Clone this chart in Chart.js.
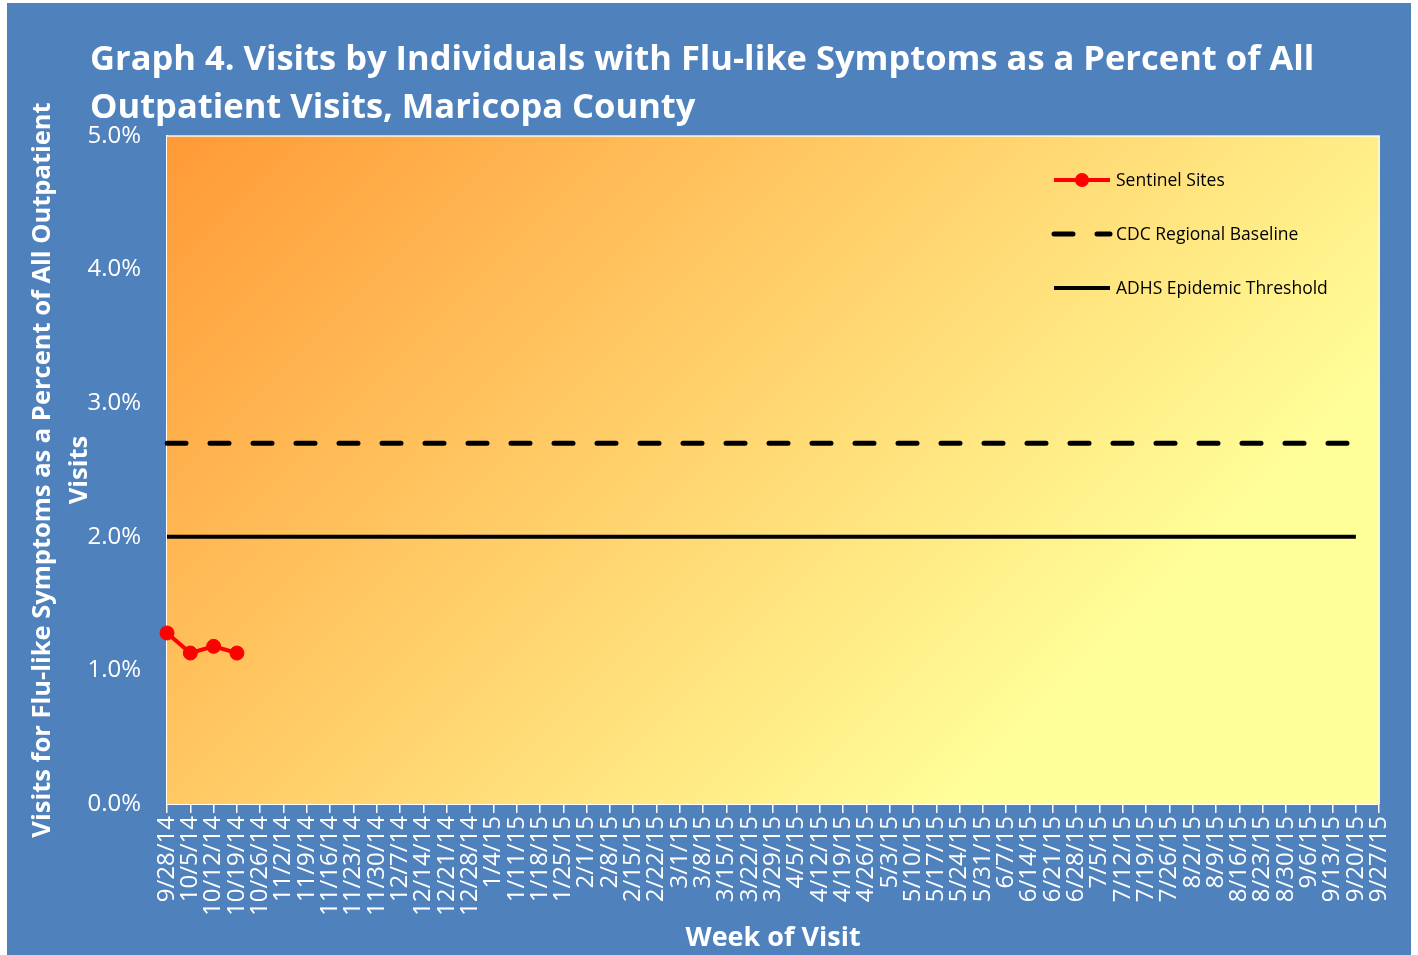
<!DOCTYPE html>
<html>
<head>
<meta charset="utf-8">
<script src="https://cdn.jsdelivr.net/npm/chart.js@4"></script>
<style>
  body { margin: 0; background: #fff; }
  #wrap { position: absolute; left: 7px; top: 3px; width: 1404px; height: 952px; background: #4f81bd; }
</style>
</head>
<body>
<div id="wrap"><canvas id="fluChart" width="1404" height="952"></canvas></div>
<script>
const weeks = ['9/28/14', '10/5/14', '10/12/14', '10/19/14', '10/26/14', '11/2/14', '11/9/14', '11/16/14',
  '11/23/14', '11/30/14', '12/7/14', '12/14/14', '12/21/14', '12/28/14', '1/4/15', '1/11/15', '1/18/15',
  '1/25/15', '2/1/15', '2/8/15', '2/15/15', '2/22/15', '3/1/15', '3/8/15', '3/15/15', '3/22/15', '3/29/15',
  '4/5/15', '4/12/15', '4/19/15', '4/26/15', '5/3/15', '5/10/15', '5/17/15', '5/24/15', '5/31/15', '6/7/15',
  '6/14/15', '6/21/15', '6/28/15', '7/5/15', '7/12/15', '7/19/15', '7/26/15', '8/2/15', '8/9/15', '8/16/15',
  '8/23/15', '8/30/15', '9/6/15', '9/13/15', '9/20/15', '9/27/15'];

// percent of all outpatient visits
const sentinelSites = [1.28, 1.13, 1.18, 1.13];

const cdcBaseline = [2.7, 2.7, 2.7, 2.7, 2.7, 2.7, 2.7, 2.7, 2.7, 2.7, 2.7, 2.7, 2.7,
  2.7, 2.7, 2.7, 2.7, 2.7, 2.7, 2.7, 2.7, 2.7, 2.7, 2.7, 2.7, 2.7,
  2.7, 2.7, 2.7, 2.7, 2.7, 2.7, 2.7, 2.7, 2.7, 2.7, 2.7, 2.7, 2.7,
  2.7, 2.7, 2.7, 2.7, 2.7, 2.7, 2.7, 2.7, 2.7, 2.7, 2.7, 2.7, 2.7];

const adhsThreshold = [2.0, 2.0, 2.0, 2.0, 2.0, 2.0, 2.0, 2.0, 2.0, 2.0, 2.0, 2.0, 2.0,
  2.0, 2.0, 2.0, 2.0, 2.0, 2.0, 2.0, 2.0, 2.0, 2.0, 2.0, 2.0, 2.0,
  2.0, 2.0, 2.0, 2.0, 2.0, 2.0, 2.0, 2.0, 2.0, 2.0, 2.0, 2.0, 2.0,
  2.0, 2.0, 2.0, 2.0, 2.0, 2.0, 2.0, 2.0, 2.0, 2.0, 2.0, 2.0, 2.0];

const titleLines = ['Graph 4. Visits by Individuals with Flu-like Symptoms as a Percent of All',
  'Outpatient Visits, Maricopa County'];

// plot background gradient + title + legend inside the plot
const decor = {
  id: 'decor',
  beforeDatasetsDraw(chart) {
    const { ctx, chartArea: a } = chart;
    const s = ((a.right - a.left) + (a.bottom - a.top)) / 2;
    const g = ctx.createLinearGradient(a.left, a.top, a.left + s, a.top + s);
    g.addColorStop(0, '#ff9a36');
    g.addColorStop(0.78, '#ffff99');
    g.addColorStop(1, '#ffff99');
    ctx.save();
    ctx.fillStyle = g;
    ctx.fillRect(a.left, a.top, a.right - a.left, a.bottom - a.top);
    ctx.strokeStyle = 'rgba(255,255,255,0.9)';
    ctx.lineWidth = 1.5;
    ctx.beginPath();
    ctx.moveTo(a.left, a.top);
    ctx.lineTo(a.right, a.top);
    ctx.lineTo(a.right, a.bottom);
    ctx.stroke();
    ctx.restore();
  },
  afterDraw(chart) {
    const { ctx } = chart;
    ctx.save();
    ctx.fillStyle = '#ffffff';
    ctx.font = 'bold 34.5px "Open Sans"';
    ctx.textBaseline = 'alphabetic';
    ctx.fillText(titleLines[0], 83, 67);
    ctx.fillText(titleLines[1], 83, 115);

    const rows = [177, 231, 285];
    ctx.font = '17.5px "Open Sans"';
    ctx.textBaseline = 'middle';
    chart.data.datasets.forEach((ds, i) => {
      const y = rows[i];
      ctx.strokeStyle = ds.borderColor;
      ctx.lineWidth = ds.borderWidth;
      ctx.lineCap = ds.borderCapStyle || 'butt';
      ctx.setLineDash(ds.borderDash || []);
      ctx.beginPath();
      ctx.moveTo(1047, y);
      ctx.lineTo(1103, y);
      ctx.stroke();
      ctx.setLineDash([]);
      if (ds.pointRadius) {
        ctx.fillStyle = ds.pointBackgroundColor;
        ctx.beginPath();
        ctx.arc(1075, y, ds.pointRadius, 0, Math.PI * 2);
        ctx.fill();
      }
      ctx.fillStyle = '#000000';
      ctx.fillText(ds.label, 1109, y + 1);
    });
    ctx.restore();
  }
};

new Chart(document.getElementById('fluChart'), {
  type: 'line',
  data: {
    labels: weeks,
    datasets: [{
      label: 'Sentinel Sites',
      data: sentinelSites,
      borderColor: '#ff0000',
      borderWidth: 4,
      pointRadius: 7,
      pointBackgroundColor: '#ff0000',
      pointBorderColor: '#ff0000',
      pointBorderWidth: 1
    }, {
      label: 'CDC Regional Baseline',
      data: cdcBaseline,
      borderColor: '#000000',
      borderWidth: 5,
      borderDash: [19, 24],
      borderCapStyle: 'round',
      pointRadius: 0
    }, {
      label: 'ADHS Epidemic Threshold',
      data: adhsThreshold,
      borderColor: '#000000',
      borderWidth: 4,
      pointRadius: 0
    }]
  },
  options: {
    responsive: false,
    animation: false,
    layout: { padding: { top: 133, right: 31, left: 0, bottom: 0 } },
    plugins: {
      legend: { display: false },
      tooltip: { enabled: false }
    },
    scales: {
      x: {
        offset: false,
        afterFit(scale) { scale.height = 151; },
        grid: { drawOnChartArea: false, color: '#ffffff', lineWidth: 1.5, tickLength: 9 },
        border: { color: '#ffffff', width: 2 },
        ticks: {
          autoSkip: false, minRotation: 90, maxRotation: 90, padding: 3,
          color: '#ffffff', font: { family: 'Open Sans', size: 24 }
        },
        title: {
          display: true, text: 'Week of Visit', color: '#ffffff',
          font: { family: 'Open Sans', size: 27, weight: 'bold', lineHeight: 1.2 },
          padding: 0
        }
      },
      y: {
        min: 0, max: 5,
        afterFit(scale) { scale.width = 160; },
        grid: { display: false },
        border: { color: '#ffffff', width: 2 },
        ticks: {
          stepSize: 1, padding: 18, color: '#ffffff',
          font: { family: 'Open Sans', size: 24 },
          callback: v => v.toFixed(1) + '%'
        },
        title: {
          display: true,
          text: ['Visits for Flu-like Symptoms as a Percent of All Outpatient', 'Visits'],
          color: '#ffffff',
          font: { family: 'Open Sans', size: 25.5, weight: 'bold', lineHeight: 1.45 },
          padding: { top: 17, bottom: 0 }
        }
      }
    }
  },
  plugins: [decor]
});
</script>
</body>
</html>
